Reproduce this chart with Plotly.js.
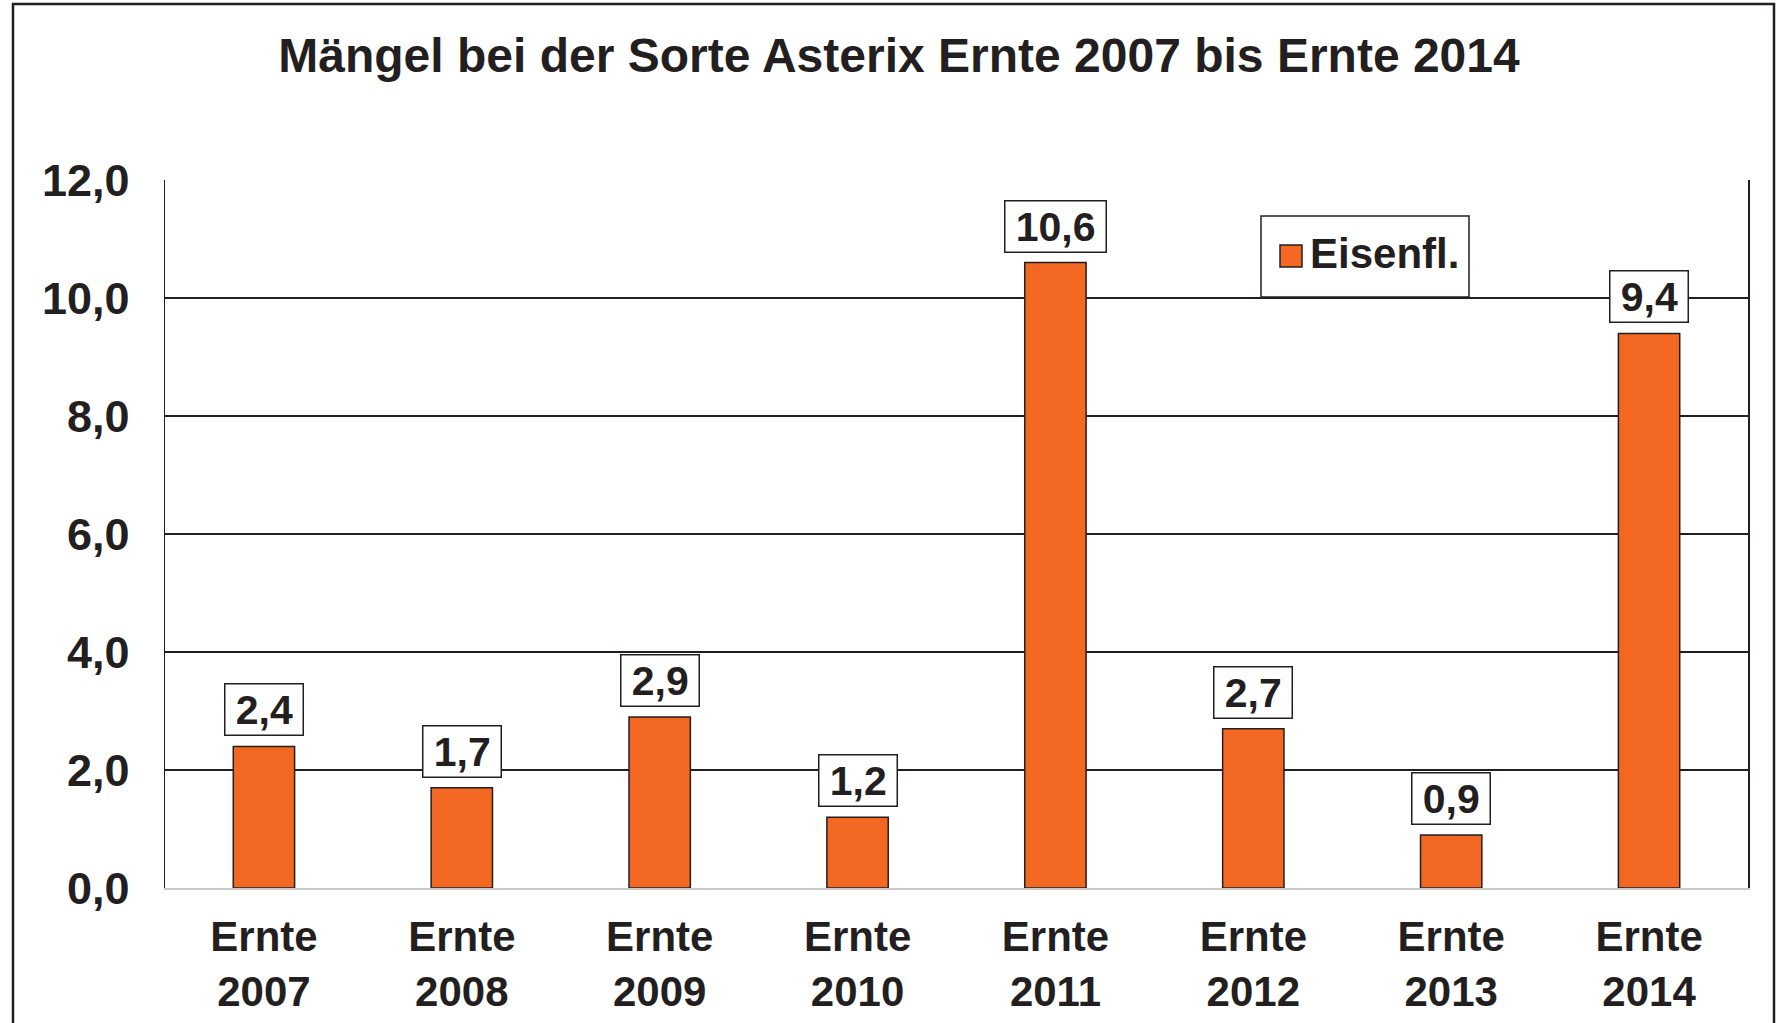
<!DOCTYPE html>
<html>
<head>
<meta charset="utf-8">
<script src="https://cdn.plot.ly/plotly-3.0.1.min.js"></script>
<style>
  html, body { margin: 0; padding: 0; background: #ffffff; }
  #chart { width: 1776px; height: 1023px; }
</style>
</head>
<body>
<div id="chart"></div>
<script>
// ---- Data ----
const years = ['2007', '2008', '2009', '2010', '2011', '2012', '2013', '2014'];
const categories = years.map(y => 'Ernte ' + y);
const tickLabels = years.map(y => 'Ernte<br>' + y);
const eisenfl = [2.4, 1.7, 2.9, 1.2, 10.6, 2.7, 0.9, 9.4];
const seriesName = 'Eisenfl.';
const chartTitle = 'Mängel bei der Sorte Asterix Ernte 2007 bis Ernte 2014';
const yTicks = [0, 2, 4, 6, 8, 10, 12];

// ---- Style ----
const ink = '#231f20';
const orange = '#f26722';
const font = 'Liberation Sans, Arial, sans-serif';
const W = 1776, H = 1023;
const M = { l: 165, r: 28, t: 180, b: 135 };
const pw = W - M.l - M.r, ph = H - M.t - M.b;
const px = v => (v - M.l) / pw;        // pixel -> paper x
const py = v => (H - M.b - v) / ph;    // pixel -> paper y

const fmt = v => v.toFixed(1).replace('.', ',');

const bars = {
  type: 'bar',
  x: categories,
  y: eisenfl,
  name: seriesName,
  marker: { color: orange, line: { color: ink, width: 1.5 } },
  width: 0.31,
  hoverinfo: 'skip',
  showlegend: false
};

// legend entry (text) for the series; its key square is drawn larger below
const legendEntry = {
  type: 'scatter', mode: 'markers',
  x: [categories[0]], y: [null],
  name: seriesName,
  marker: { color: orange, opacity: 0, size: 1 },
  hoverinfo: 'skip',
  showlegend: true
};

const annotations = categories.map((c, i) => ({
  x: c, y: eisenfl[i], xref: 'x', yref: 'y',
  text: '\u2009' + fmt(eisenfl[i]) + '\u2009',
  showarrow: false,
  yanchor: 'bottom', xanchor: 'center',
  yshift: 10,
  bgcolor: '#ffffff',
  bordercolor: ink, borderwidth: 1.5, borderpad: 2,
  font: { family: font, size: 41, color: ink, weight: 700 }
}));

const layout = {
  width: W, height: H,
  margin: M,
  paper_bgcolor: '#ffffff',
  plot_bgcolor: '#ffffff',
  separators: ',.',
  font: { family: font, color: ink, size: 42, weight: 700 },
  title: {
    text: chartTitle,
    font: { family: font, size: 48, color: ink, weight: 700 },
    xref: 'container', yref: 'container',
    x: 899 / W, xanchor: 'center',
    y: 1 - 55 / H, yanchor: 'middle'
  },
  xaxis: {
    type: 'category',
    tickmode: 'array', tickvals: categories, ticktext: tickLabels,
    showline: true, linecolor: '#c8c8c8', linewidth: 2,
    showgrid: false, ticks: '',
    ticklabelstandoff: 11,
    tickfont: { family: font, size: 42, color: ink, weight: 700 }
  },
  yaxis: {
    range: [0, 12],
    tickmode: 'array', tickvals: yTicks,
    tickformat: '.1f',
    showline: true, linecolor: ink, linewidth: 1.5, mirror: true,
    showgrid: true, gridcolor: ink, gridwidth: 1.5,
    zeroline: false, ticks: '',
    ticklabelstandoff: 25,
    tickfont: { family: font, size: 45, color: ink, weight: 700 }
  },
  bargap: 0.69,
  showlegend: true,
  legend: {
    x: px(1270), y: py(218), xanchor: 'left', yanchor: 'top',
    bgcolor: 'rgba(0,0,0,0)', borderwidth: 0,
    font: { family: font, size: 42, color: ink, weight: 700 },
    itemwidth: 30
  },
  annotations: annotations,
  shapes: [
    { // outer frame
      type: 'rect', xref: 'paper', yref: 'paper',
      x0: px(13), x1: px(1774), y0: py(1060), y1: py(4),
      line: { color: ink, width: 2.5 }, fillcolor: 'rgba(0,0,0,0)', layer: 'above'
    },
    { // legend box
      type: 'rect', xref: 'paper', yref: 'paper',
      x0: px(1261), x1: px(1469), y0: py(297), y1: py(216),
      line: { color: ink, width: 1.5 }, fillcolor: '#ffffff', layer: 'above'
    },
    { // legend key
      type: 'rect', xref: 'paper', yref: 'paper',
      x0: px(1280), x1: px(1302), y0: py(267), y1: py(245),
      line: { color: ink, width: 1.5 }, fillcolor: orange, layer: 'above'
    }
  ]
};

Plotly.newPlot('chart', [bars, legendEntry], layout, { displayModeBar: false, staticPlot: true });
</script>
</body>
</html>
